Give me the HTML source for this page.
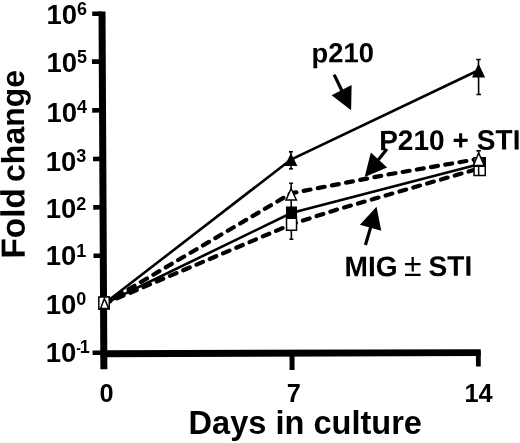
<!DOCTYPE html>
<html><head><meta charset="utf-8">
<style>
html,body{margin:0;padding:0;background:#fff;}
svg{display:block;}
text{font-family:"Liberation Sans",Arial,Helvetica,sans-serif;font-weight:bold;fill:#000;}
</style></head><body>
<svg width="520" height="443" viewBox="0 0 520 443">
<rect width="520" height="443" fill="#fff"/>
<g transform="rotate(-0.3 104 353)">
<!-- axes -->
<g stroke="#000" fill="none">
<line x1="103.8" y1="11.4" x2="103.8" y2="369.3" stroke-width="7"/>
<line x1="100.7" y1="353.7" x2="480.7" y2="354.6" stroke-width="6.9"/>
<g stroke-width="4.6">
<line x1="94" y1="13.7" x2="104" y2="13.7"/>
<line x1="93.5" y1="61.6" x2="104" y2="61.6"/>
<line x1="93.5" y1="110.3" x2="104" y2="110.3"/>
<line x1="94" y1="158.9" x2="104" y2="158.9"/>
<line x1="94" y1="207.3" x2="104" y2="207.3"/>
<line x1="94" y1="255.7" x2="104" y2="255.7"/>
<line x1="92.6" y1="352.7" x2="104" y2="352.7"/>
</g>
<line x1="292" y1="353" x2="292" y2="371" stroke-width="5"/>
<line x1="478.3" y1="353" x2="478.3" y2="368.4" stroke-width="4.8"/>
</g>
<!-- series lines -->
<g fill="none" stroke="#000">
<polyline points="104,304 292,160.5 479.5,72.5" stroke-width="2.6"/>
<polyline points="104,304 292,214 480,166.2" stroke-width="2.6"/>
<g stroke-width="4.2" stroke-dasharray="7 7.4" stroke-linecap="round">
<polyline points="104,304 292,194.3 390,175.8 480,160.8"/>
<polyline points="104,304 292,225.3 335,211.6 390,196 480,170.5"/>
</g>
</g>
<!-- error bars -->
<g stroke="#000" stroke-width="1.6" fill="none">
<path d="M292 152.8V169.8M290 152.8h4M290 169.8h4"/>
<path d="M292 184.2V240.2M290 184.2h4M290 240.2h4"/>
<path d="M480 61.5V96.5M477.8 61.5h4.5M477.8 96.5h4.5"/>
<path d="M479.7 152.8V176M477.5 152.8h4.5"/>
</g>
<!-- markers -->
<g stroke="#000" stroke-width="1.5">
<rect x="287.5" y="208.2" width="9.5" height="10.5" fill="#000"/>
<rect x="287.2" y="219.2" width="10" height="12" fill="#fff"/>
<polygon points="292,189.5 297.2,201 286.8,201" fill="#fff"/>
<polygon points="292,155.7 297.2,166.2 286.8,166.2" fill="#000"/>
<rect x="475" y="159.7" width="11.2" height="8.5" fill="#fff"/>
<rect x="484" y="159.7" width="2.2" height="8.5" fill="#000"/>
<rect x="475" y="168.2" width="11.2" height="9.3" fill="#fff"/>
<line x1="479.6" y1="168.2" x2="479.6" y2="177.5"/>
<polygon points="479.7,155 485.2,167.5 474.4,167.5" fill="#fff"/>
<polygon points="480,67.3 485.4,78.8 474.6,78.8" fill="#000"/>
<rect x="99.1" y="296.9" width="10.4" height="12.2" fill="#fff"/>
<polygon points="104.6,298.6 109,308.4 100.9,308.4" fill="#fff"/>
</g>
<!-- arrows -->
<g stroke="#000" stroke-width="3.2" fill="#000">
<line x1="335.6" y1="75.8" x2="344" y2="93.5"/>
<polygon points="352.4,111.5 333,96.4 353,86.4" stroke="none"/>
<line x1="388" y1="150.5" x2="378" y2="163"/>
<polygon points="365.6,178.4 371.9,154 388.1,168.9" stroke="none"/>
<line x1="366" y1="246.4" x2="371.5" y2="228"/>
<polygon points="377.3,208.1 381.9,232.2 360.6,226.1" stroke="none"/>
</g>
<!-- labels -->

<text transform="translate(25.3 258.2) rotate(-90)" font-size="32"><tspan font-size="33.5">Fold </tspan><tspan x="76.7">change</tspan></text>
<text x="313" y="63.5" font-size="27.4">p210</text>
<text x="380.2" y="151.6" font-size="28.1">P210 + STI</text>
<text x="344.8" y="277.6" font-size="28.2">MIG <tspan x="404.3" font-size="32" style="font-weight:normal">± </tspan><tspan x="428.8">STI</tspan></text>
</g>
<g font-size="27.5">
<text x="46.5" y="23.5">10<tspan font-size="18" dy="-8.8">6</tspan></text>
<text x="46.5" y="71.9">10<tspan font-size="18" dy="-8.8">5</tspan></text>
<text x="46.5" y="121.5">10<tspan font-size="18" dy="-8.8">4</tspan></text>
<text x="45.7" y="171">10<tspan font-size="18" dy="-8.8">3</tspan></text>
<text x="45.7" y="218.4">10<tspan font-size="18" dy="-8.8">2</tspan></text>
<text x="45.7" y="265.3">10<tspan font-size="18" dy="-8.8">1</tspan></text>
<text x="45.7" y="313.7">10<tspan font-size="18" dy="-8.8">0</tspan></text>
<text x="45.7" y="362.0">10<tspan font-size="14" dy="-8.8">-</tspan><tspan font-size="18" dx="-1.2">1</tspan></text>
</g>
<g font-size="25.3" text-anchor="middle">
<text x="106.5" y="402.1">0</text>
<text x="293.7" y="402.1">7</text>
<text x="478.6" y="402.1">14</text>
</g>
<text x="188.6" y="433.5" font-size="32.55">Days in culture</text>
</svg>
</body></html>
